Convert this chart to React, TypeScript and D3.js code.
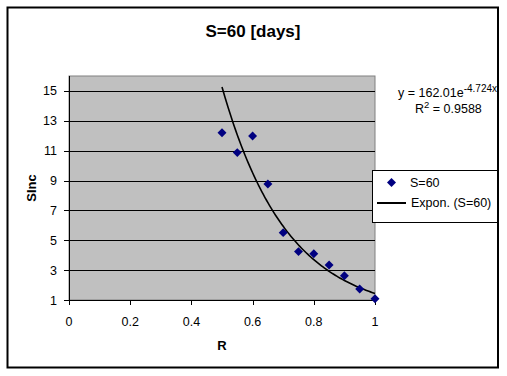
import React from "react";
import * as d3 from "d3";

const rValues = [0.5, 0.55, 0.6, 0.65, 0.7, 0.75, 0.8, 0.85, 0.9, 0.95, 1.0];
const sIncValues = [12.2, 10.87, 11.98, 8.77, 5.51, 4.24, 4.1, 3.34, 2.63, 1.74, 1.09];
const xTicks = [0, 0.2, 0.4, 0.6, 0.8, 1];
const yTicks = [1, 3, 5, 7, 9, 11, 13, 15];
const trendCoefA = 162.01;
const trendCoefB = -4.724;
const trendRange = [0.5, 1.0];
const seriesName = "S=60";
const trendName = "Expon. (S=60)";
const titleText = "S=60 [days]";
const rSquaredText = "0.9588";

const W = 507;
const H = 376;
const plot = { left: 69, right: 375, top: 76, bottom: 300 };
const FONT = "'Liberation Sans', Arial, sans-serif";

export default function App() {
  const x = d3.scaleLinear().domain([0, 1]).range([plot.left, plot.right]);
  const y = d3.scaleLinear().domain([1, 16]).range([plot.bottom, plot.top]);

  const trendPts: [number, number][] = d3
    .range(0, 101)
    .map((i) => trendRange[0] + ((trendRange[1] - trendRange[0]) * i) / 100)
    .map((r) => [r, trendCoefA * Math.exp(trendCoefB * r)]);
  const line = d3
    .line<[number, number]>()
    .x((d) => x(d[0]))
    .y((d) => y(d[1]));

  const diamond = d3.symbol().type(d3.symbolSquare).size(40)()!;

  return (
    <svg
      width={W}
      height={H}
      style={{ position: "absolute", left: 0, top: 0, background: "#fff" }}
      fontFamily={FONT}
    >
      <rect x={0} y={0} width={W} height={H} fill="#fff" />
      <rect x={7.5} y={7.5} width={490.5} height={360} fill="none" stroke="#000" strokeWidth={2} />

      <text x={253} y={37} textAnchor="middle" fontSize={17} fontWeight="bold">
        {titleText}
      </text>

      <rect
        x={plot.left}
        y={plot.top}
        width={plot.right - plot.left}
        height={plot.bottom - plot.top}
        fill="#C0C0C0"
        stroke="#808080"
        strokeWidth={1}
      />

      {yTicks.map((t) => (
        <g key={"y" + t}>
          <line x1={plot.left - 5} x2={plot.right} y1={Math.round(y(t)) + 0.5} y2={Math.round(y(t)) + 0.5} stroke="#000" strokeWidth={1} />
          <text x={57} y={y(t) + 4.5} textAnchor="end" fontSize={12.5}>
            {t}
          </text>
        </g>
      ))}

      <line x1={plot.left + 0.5} x2={plot.left + 0.5} y1={plot.top} y2={plot.bottom + 0.5} stroke="#000" />
      <line x1={plot.left} x2={plot.right} y1={plot.bottom + 0.5} y2={plot.bottom + 0.5} stroke="#000" />

      {xTicks.map((t) => (
        <g key={"x" + t}>
          <line x1={Math.round(x(t)) + 0.5} x2={Math.round(x(t)) + 0.5} y1={plot.bottom} y2={plot.bottom + 5} stroke="#000" />
          <text x={x(t)} y={326} textAnchor="middle" fontSize={12.5}>
            {t}
          </text>
        </g>
      ))}

      <text x={222} y={350} textAnchor="middle" fontSize={13} fontWeight="bold">
        R
      </text>
      <text
        transform={`translate(36,${(plot.top + plot.bottom) / 2}) rotate(-90)`}
        textAnchor="middle"
        fontSize={13}
        fontWeight="bold"
      >
        SInc
      </text>

      <path d={line(trendPts) ?? ""} fill="none" stroke="#000" strokeWidth={1.6} />

      {rValues.map((r, i) => (
        <path
          key={"p" + i}
          d={diamond}
          transform={`translate(${x(r)},${y(sIncValues[i])}) rotate(45)`}
          fill="#000080"
        />
      ))}

      <text x={398} y={97} fontSize={12.5}>
        y = {trendCoefA.toFixed(2)}e
        <tspan dy={-5} fontSize={10}>
          {trendCoefB.toString()}x
        </tspan>
      </text>
      <text x={415} y={113} fontSize={12.5}>
        R
        <tspan dy={-5} fontSize={9.5}>
          2
        </tspan>
        <tspan dy={5}> = {rSquaredText}</tspan>
      </text>

      <rect x={372.5} y={170.5} width={125} height={52} fill="#fff" stroke="#000" strokeWidth={1} />
      <path d={diamond} transform="translate(391.5,182.5) rotate(45)" fill="#000080" />
      <text x={410} y={187} fontSize={12.5}>
        {seriesName}
      </text>
      <line x1={377} x2={406} y1={203} y2={203} stroke="#000" strokeWidth={2} />
      <text x={411} y={207} fontSize={12.5}>
        {trendName}
      </text>
    </svg>
  );
}
